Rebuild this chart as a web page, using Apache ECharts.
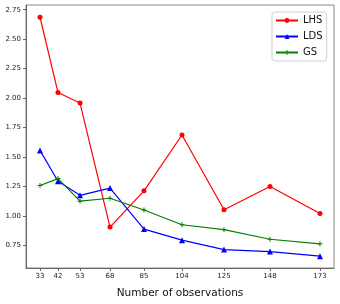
<!DOCTYPE html>
<html>
<head>
<meta charset="utf-8">
<script src="https://cdn.jsdelivr.net/npm/echarts@6/dist/echarts.min.js"></script>
<style>
html,body{margin:0;padding:0;background:#fff;}
#chart{width:340px;height:304px;}
</style>
</head>
<body>
<div id="chart"></div>
<script>
const observations = [33, 42, 53, 68, 85, 104, 125, 148, 173];
const lhs = [2.686, 2.047, 1.958, 0.905, 1.213, 1.687, 1.053, 1.25, 1.02];
const lds = [1.556, 1.294, 1.175, 1.236, 0.888, 0.794, 0.714, 0.697, 0.658];
const gs  = [1.258, 1.317, 1.125, 1.15, 1.05, 0.925, 0.883, 0.802, 0.763];
const yTicks = [0.75, 1.00, 1.25, 1.50, 1.75, 2.00, 2.25, 2.50, 2.75];
const xLabel = 'Number of observations';

const pair = arr => observations.map((x, i) => [x, arr[i]]);
const plusPath = 'path://M4,0 L6,0 L6,4 L10,4 L10,6 L6,6 L6,10 L4,10 L4,6 L0,6 L0,4 L4,4 Z';
const font = 'DejaVu Sans';

const chart = echarts.init(document.getElementById('chart'), null, {renderer: 'canvas'});
chart.setOption({
  animation: false,
  textStyle: {fontFamily: font},
  grid: {left: 26, right: 6, top: 5, bottom: 31, show: true, borderColor: '#888', borderWidth: 1, containLabel: false},
  xAxis: {
    type: 'value', min: 26, max: 180,
    name: xLabel, nameLocation: 'middle', nameGap: 20,
    nameTextStyle: {fontSize: 10.5, color: '#111', fontFamily: font},
    axisLine: {show: true, lineStyle: {color: '#666', width: 1}},
    axisTick: {show: true, customValues: observations, length: 3, lineStyle: {color: '#666'}},
    axisLabel: {customValues: observations, fontSize: 7, color: '#222', margin: 5, fontFamily: font},
    splitLine: {show: false}
  },
  yAxis: {
    type: 'value', min: 0.558, max: 2.79,
    axisLine: {show: true, lineStyle: {color: '#666', width: 1}},
    axisTick: {show: true, customValues: yTicks, length: 3, lineStyle: {color: '#666'}},
    axisLabel: {customValues: yTicks, fontSize: 7, color: '#222', margin: 5, fontFamily: font,
      formatter: v => v.toFixed(2)},
    splitLine: {show: false}
  },
  legend: {
    orient: 'vertical', left: 272, top: 12,
    padding: [2, 4, 2, 3],
    itemWidth: 22, itemHeight: 6, itemGap: 3, itemTextGap: 7,
    borderColor: '#d0d0d0', borderWidth: 1, borderRadius: 3, backgroundColor: '#fff',
    textStyle: {fontSize: 10, color: '#111', fontFamily: font, lineHeight: 13},
    data: ['LHS', 'LDS', 'GS']
  },
  series: [
    {name: 'LHS', type: 'line', data: pair(lhs), symbol: 'circle', symbolSize: 5,
      itemStyle: {color: '#ff0000'}, lineStyle: {color: '#ff0000', width: 1.2}},
    {name: 'LDS', type: 'line', data: pair(lds), symbol: 'triangle', symbolSize: 6,
      itemStyle: {color: '#0000ff'}, lineStyle: {color: '#0000ff', width: 1.2}},
    {name: 'GS', type: 'line', data: pair(gs), symbol: plusPath, symbolSize: 5,
      itemStyle: {color: '#008000'}, lineStyle: {color: '#008000', width: 1.2}}
  ]
});
</script>
</body>
</html>
